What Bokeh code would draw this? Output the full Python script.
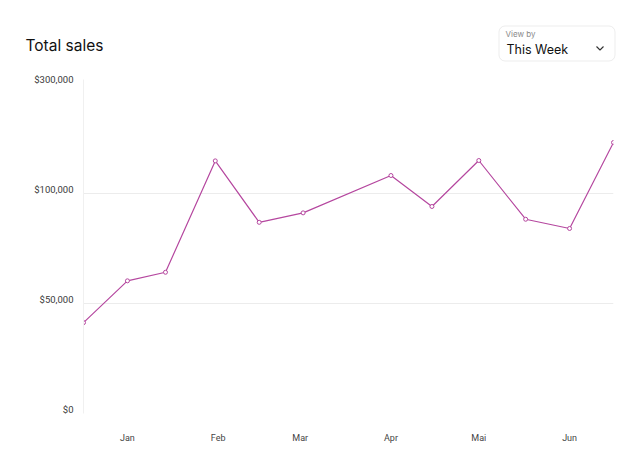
import pandas as pd
from bokeh.plotting import figure
from bokeh.layouts import column
from bokeh.models import (ColumnDataSource, FixedTicker, CustomJSTransform,
                          BoxAnnotation, Range1d, LinearAxis)
from bokeh.transform import transform
from bokeh.core.properties import value
from bokeh.embed import file_html
from bokeh.resources import INLINE

# ---- data ----
dates = ["2022-12-17", "2023-01-01", "2023-01-14", "2023-01-31", "2023-02-15", "2023-03-02",
         "2023-04-01", "2023-04-15", "2023-05-01", "2023-05-17", "2023-06-01", "2023-06-16"]
sales = [41300, 60300, 64200, 159300, 86900, 91200, 132700, 94100, 160000, 88300, 84100, 192700]
y_ticks = [0, 50000, 100000, 300000]
y_tick_labels = ["$0", "$50,000", "$100,000", "$300,000"]
month_starts = ["2023-01-01", "2023-02-01", "2023-03-01", "2023-04-01", "2023-05-01", "2023-06-01"]
month_labels = ["Jan", "Feb", "Mar", "Apr", "Mai", "Jun"]
title_text = "Total sales"
view_by_label = "View by"
view_by_value = "This Week"

TITLE_FONT = "Inter"
AXIS_FONT = "Roboto"
LINE_COLOR = "#b5479f"
W, H = 640, 467
HEAD_H = 70
LABEL_LIFT = 4  # px: tick labels sit slightly above their grid lines
FL, FR, FT, FB = 83, 613, 83 - LABEL_LIFT, 413  # frame edges (page px)

# ---------------- header ----------------
hd = figure(width=W, height=HEAD_H, output_backend="svg", toolbar_location=None,
            x_range=Range1d(0, W), y_range=Range1d(HEAD_H, 0),
            x_axis_location=None, y_axis_location=None,
            min_border=0, min_border_left=0, min_border_right=0,
            min_border_top=0, min_border_bottom=0)
hd.frame_align = False
hd.outline_line_color = None
hd.xgrid.visible = False
hd.ygrid.visible = False

hd.text(x=[25], y=[45], text=[title_text], text_font=value(TITLE_FONT),
        text_font_size="15.5px", text_color="#111111",
        text_baseline="middle", text_align="left")
hd.add_layout(BoxAnnotation(left=498.5, right=614.5, top=25.5, bottom=60.5,
                            fill_color=None, line_color="#c2c2c2",
                            line_width=1, border_radius=6, level="underlay"))
hd.text(x=[505], y=[33], text=[view_by_label], text_font=value(TITLE_FONT),
        text_font_size="8px", text_color="#8a8a8a",
        text_baseline="middle", text_align="left")
hd.text(x=[506], y=[49], text=[view_by_value], text_font=value(TITLE_FONT),
        text_font_size="12.5px", text_color="#111111",
        text_baseline="middle", text_align="left")
hd.line(x=[596, 599.5, 603], y=[46, 49.5, 46], line_color="#333333", line_width=1.1)

# ---------------- chart ----------------
CH = H - HEAD_H
x = pd.to_datetime(dates)
src = ColumnDataSource(dict(x=x, y=sales))

# piecewise scale: equal spacing between the tick values
seg = CustomJSTransform(args=dict(bp=y_ticks), v_func="""
const out = new Float64Array(xs.length);
for (let i = 0; i < xs.length; i++) {
  const v = xs[i];
  let k = 0;
  while (k < bp.length - 2 && v > bp[k + 1]) k++;
  out[i] = k + (v - bp[k]) / (bp[k + 1] - bp[k]);
}
return out;
""")

n_seg = len(y_ticks) - 1
unit_px = (FB - (FT + LABEL_LIFT)) / n_seg
lift = LABEL_LIFT / unit_px
p = figure(width=W, height=CH, x_axis_type="datetime", output_backend="svg",
           toolbar_location=None, y_axis_location=None,
           x_range=Range1d(x.min(), x.max()),
           y_range=Range1d(0, n_seg + lift),
           min_border_left=FL, min_border_right=W - FR,
           min_border_top=FT - HEAD_H, min_border_bottom=H - FB)
p.frame_align = False
p.outline_line_color = None
p.background_fill_color = "white"
p.border_fill_color = "white"

tick_pos = list(range(len(y_ticks)))
p.extra_y_ranges = {"lab": Range1d(-lift, n_seg)}
yax = LinearAxis(y_range_name="lab")
yax.ticker = FixedTicker(ticks=tick_pos)
yax.major_label_overrides = {i: lab for i, lab in zip(tick_pos, y_tick_labels)}
yax.major_tick_line_color = None
yax.minor_tick_line_color = None
yax.major_tick_out = 0
yax.major_tick_in = 0
yax.axis_line_color = "#f0f0f0"
yax.major_label_standoff = 10
yax.major_label_text_font = AXIS_FONT
yax.major_label_text_font_size = "9.5px"
yax.major_label_text_color = "#3a3a3a"
p.add_layout(yax, "left")

p.ygrid.ticker = FixedTicker(ticks=tick_pos[:-1])
p.ygrid.grid_line_color = "#ececec"
p.xgrid.grid_line_color = None

# x axis
ms = [pd.Timestamp(d).value / 1e6 for d in month_starts]
p.xaxis.ticker = FixedTicker(ticks=ms)
p.xaxis.major_label_overrides = {m: lab for m, lab in zip(ms, month_labels)}
p.xaxis.major_tick_line_color = None
p.xaxis.minor_tick_line_color = None
p.xaxis.major_tick_out = 0
p.xaxis.major_tick_in = 0
p.xaxis.axis_line_color = None
p.xaxis.major_label_standoff = 19
p.xaxis.major_label_text_font = AXIS_FONT
p.xaxis.major_label_text_font_size = "9px"
p.xaxis.major_label_text_color = "#444444"

# series
p.line("x", transform("y", seg), source=src, line_color=LINE_COLOR, line_width=1.2)
p.scatter("x", transform("y", seg), source=src, size=4, marker="circle",
          line_color=LINE_COLOR, fill_color="white", line_width=1)

layout = column(hd, p, spacing=0)
open("out.html", "w").write(file_html(layout, INLINE))
